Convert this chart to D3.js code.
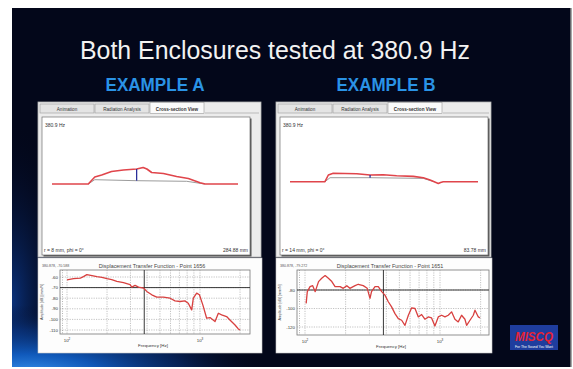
<!DOCTYPE html>
<html><head><meta charset="utf-8">
<script src="https://cdn.jsdelivr.net/npm/d3@7"></script>
<style>body{margin:0;background:#fff}svg{display:block}</style>
</head><body>
<script>
// ---------- data ----------
const titleText = "Both Enclosures tested at 380.9 Hz";
const exampleLabels = ["EXAMPLE A", "EXAMPLE B"];
const tabLabels = ["Animation", "Radiation Analysis", "Cross-section View"];
const testFreq = 380.9;
const freqLabel = "380.9 Hz";
const radiusLabels = ["r = 8 mm, phi = 0°", "r = 14 mm, phi = 0°"];
const scaleLabels = ["284.88 mm", "83.78 mm"];
const plotTitles = ["Displacement Transfer Function - Point 1656", "Displacement Transfer Function - Point 1651"];
const cursorLabels = ["380.878, -70.588", "380.878, -79.272"];

// cross-section profiles: position (% of span) and displacement (units)
const secPosA  = [0, 19.5, 21, 23, 26.7, 32, 38.4, 45.5, 49, 51, 53.6, 59.9, 67, 73.3, 79.6, 82.3, 100];
const secDispA = [0, 0, 3, 7, 9, 12.5, 14, 15, 16.5, 15, 11.5, 10.5, 7.5, 5.5, 1.3, 0, 0];
const restPosA  = [19.5, 23, 45.5, 72.4, 79.6, 82];
const restDispA = [0, 4.3, 3.3, 2.7, 0.7, 0];
const probeA = {pos: 45.5, from: 3.3, to: 15};

const secPosB  = [0, 18.6, 20.4, 23, 35.5, 42.6, 49.6, 56.7, 65.6, 70.9, 74.5, 78.9, 80.1, 81.5, 100];
const secDispB = [0, 0, 6.7, 8.4, 8, 6.7, 7, 6, 5.3, 4, 1.7, -1.7, -0.7, 0, 0];
const restPosB  = [18.6, 21.3, 42.6, 70.9, 75.4, 77];
const restDispB = [0, 4, 4, 3.3, 0.7, 0];
const probeB = {pos: 42.6, from: 4, to: 6.7};

// transfer functions: frequency (Hz) and amplitude (dB)
const freqA = [100, 112, 126, 133, 141, 154, 168, 183, 200, 217, 237, 266, 298, 307, 325, 345, 376, 398, 434, 473, 531, 596, 649, 708, 770, 816, 866, 891, 944, 990, 1050, 1122, 1189, 1297, 1374, 1455, 1585, 1679, 1834, 1941, 2000];
const dbA   = [-62.8, -61.6, -61, -59.7, -57.8, -58.7, -59.7, -60.3, -61.6, -62.5, -64.1, -65.4, -67.3, -69.5, -67.9, -69.5, -70.4, -73.6, -76.8, -79, -79, -80, -82.5, -83.1, -82.5, -84.7, -91, -80, -75.2, -76.8, -86.3, -98.9, -98.3, -102, -94.2, -95.7, -97.3, -100.5, -105.3, -109, -110];
const freqB = [102, 104, 109, 114, 119, 126, 133, 141, 149, 158, 167, 182, 192, 204, 215, 235, 248, 270, 289, 303, 311, 330, 349, 370, 391, 414, 438, 464, 491, 520, 550, 583, 617, 653, 691, 731, 773, 819, 866, 917, 971, 1028, 1088, 1151, 1218, 1290, 1365, 1445, 1530, 1575, 1667, 1765, 1816, 1923, 1980];
const dbB   = [-94.5, -81.8, -76.4, -75.3, -81.8, -70.9, -67.3, -64.4, -67.3, -70.9, -76.4, -76.4, -78.2, -75.3, -78.2, -75.3, -73.8, -75.3, -78.2, -89.1, -81.8, -76.4, -76.4, -81.8, -85.5, -92.7, -98.2, -105.5, -110.9, -112.7, -118.2, -107.3, -99.3, -100, -109.1, -106.5, -111.6, -109.1, -110.2, -118.9, -109.1, -107.3, -109.1, -107.3, -103.6, -111.6, -114.5, -107.3, -111.6, -118.2, -112.7, -107.3, -101.8, -109.1, -110.2];
const yTicksA = [-60, -70, -80, -90, -100, -110];
const yTicksB = [-80, -100, -120];
const refLevels = [-70, -80];
const xTickVals = [100, 1000];
const gridFreqs = [200, 300, 400, 500, 600, 700, 800, 900, 2000];

// ---------- drawing ----------
const W = 573, H = 369;
const svg = d3.select("body").append("svg").attr("width", W).attr("height", H)
  .style("font-family", "'Liberation Sans', Arial, sans-serif");
const defs = svg.append("defs");
const rg = defs.append("radialGradient").attr("id", "glow").attr("cx", 0.5).attr("cy", 0.5).attr("r", 0.5);
rg.append("stop").attr("offset", "0").attr("stop-color", "#3a95f0").attr("stop-opacity", 1);
rg.append("stop").attr("offset", "0.3").attr("stop-color", "#1160c8").attr("stop-opacity", 0.9);
rg.append("stop").attr("offset", "0.65").attr("stop-color", "#0a3a8c").attr("stop-opacity", 0.5);
rg.append("stop").attr("offset", "1").attr("stop-color", "#03071a").attr("stop-opacity", 0);
const rg2 = defs.append("radialGradient").attr("id", "glow2").attr("cx", 0.5).attr("cy", 0.5).attr("r", 0.5);
rg2.append("stop").attr("offset", "0").attr("stop-color", "#0d3f99").attr("stop-opacity", 0.75);
rg2.append("stop").attr("offset", "1").attr("stop-color", "#03071a").attr("stop-opacity", 0);
defs.append("clipPath").attr("id", "slideClip").append("rect")
  .attr("x", 12).attr("y", 8).attr("width", 559).attr("height", 359);

// slide
svg.append("rect").attr("x", 12).attr("y", 8).attr("width", 559).attr("height", 359).attr("fill", "#03071a");
const glowG = svg.append("g").attr("clip-path", "url(#slideClip)");
glowG.append("ellipse").attr("cx", 12).attr("cy", 300).attr("rx", 60).attr("ry", 180).attr("fill", "url(#glow2)");
glowG.append("ellipse").attr("cx", 30).attr("cy", 375).attr("rx", 240).attr("ry", 70).attr("fill", "url(#glow)");
svg.append("line").attr("x1", 571).attr("x2", 571).attr("y1", 8).attr("y2", 367).attr("stroke", "#8a8a8a").attr("stroke-width", 1.5);

svg.append("text").attr("x", 275).attr("y", 59).attr("text-anchor", "middle")
  .attr("fill", "#f2f2f2").attr("font-size", 25).attr("textLength", 390).attr("lengthAdjust", "spacingAndGlyphs")
  .text(titleText);

const exX = [155, 386];
exampleLabels.forEach((t, i) => {
  svg.append("text").attr("x", exX[i]).attr("y", 91).attr("text-anchor", "middle")
    .attr("fill", "#2a93e6").attr("font-size", 19).attr("font-weight", "bold")
    .attr("textLength", 99).attr("lengthAdjust", "spacingAndGlyphs").text(t);
});

const panels = [
  {x0: 38, x1: 261, box: [42, 250], sec: [52, 238], base: 184,
   secPos: secPosA, secDisp: secDispA, restPos: restPosA, restDisp: restDispA, probe: probeA,
   plot: [60, 250, 270, 334], fx: [67, 200], yDom: [-60, -110], yRng: [277, 330],
   freq: freqA, db: dbA, yTicks: yTicksA, ref: refLevels[0]},
  {x0: 276, x1: 491, box: [280, 488], sec: [290, 478], base: 181.7,
   secPos: secPosB, secDisp: secDispB, restPos: restPosB, restDisp: restDispB, probe: probeB,
   plot: [297, 489, 270, 335], fx: [305, 440], yDom: [-80, -120], yRng: [290, 327],
   freq: freqB, db: dbB, yTicks: yTicksB, ref: refLevels[1]}
];

panels.forEach((p, i) => {
  const g = svg.append("g");
  // outer window
  g.append("rect").attr("x", p.x0).attr("y", 102).attr("width", p.x1 - p.x0).attr("height", 155)
    .attr("fill", "#ececec").attr("stroke", "#b5b5b5").attr("stroke-width", 0.8);
  // tabs
  const tabW = 54;
  tabLabels.forEach((t, k) => {
    const tx = p.x0 + 2 + k * (tabW + 1);
    const active = k === 2;
    g.append("rect").attr("x", tx).attr("y", active ? 102.5 : 104).attr("width", tabW).attr("height", active ? 11 : 9)
      .attr("fill", active ? "#fafafa" : "#e4e4e4").attr("stroke", "#9a9a9a").attr("stroke-width", 0.6);
    g.append("text").attr("x", tx + tabW / 2).attr("y", 110.5).attr("text-anchor", "middle")
      .attr("font-size", 4.6).attr("fill", "#333").attr("font-weight", active ? "bold" : "normal").text(t);
  });
  g.append("line").attr("x1", p.x0 + 2 + 3 * (tabW + 1)).attr("x2", p.x1 - 2).attr("y1", 113).attr("y2", 113)
    .attr("stroke", "#9a9a9a").attr("stroke-width", 0.6);
  // inner cross-section box
  g.append("rect").attr("x", p.box[0] + 1.5).attr("y", 118.5).attr("width", p.box[1] - p.box[0]).attr("height", 138)
    .attr("fill", "#555");
  g.append("rect").attr("x", p.box[0]).attr("y", 117).attr("width", p.box[1] - p.box[0]).attr("height", 138)
    .attr("fill", "#fff").attr("stroke", "#707070").attr("stroke-width", 0.7);
  g.append("text").attr("x", p.box[0] + 3).attr("y", 127).attr("font-size", 5).attr("fill", "#333").text(freqLabel);
  g.append("text").attr("x", p.box[0] + 2).attr("y", 252).attr("font-size", 5).attr("fill", "#333").text(radiusLabels[i]);
  g.append("text").attr("x", p.box[1] - 2).attr("y", 252).attr("text-anchor", "end").attr("font-size", 5).attr("fill", "#333").text(scaleLabels[i]);

  const sx = d3.scaleLinear().domain([0, 100]).range(p.sec);
  const sy = d3.scaleLinear().domain([0, 10]).range([p.base, p.base - 10]);
  const line = d3.line().x(d => sx(d[0])).y(d => sy(d[1]));
  g.append("path").attr("d", line(d3.zip(p.restPos, p.restDisp))).attr("fill", "none")
    .attr("stroke", "#9c9c9c").attr("stroke-width", 1);
  g.append("path").attr("d", line(d3.zip(p.secPos, p.secDisp))).attr("fill", "none")
    .attr("stroke", "#e0454b").attr("stroke-width", 1.6).attr("stroke-linejoin", "round");
  g.append("line").attr("x1", sx(p.probe.pos)).attr("x2", sx(p.probe.pos))
    .attr("y1", sy(p.probe.from)).attr("y2", sy(p.probe.to)).attr("stroke", "#2b2f9a").attr("stroke-width", 1.3);

  // lower white section
  g.append("rect").attr("x", p.x0).attr("y", 258).attr("width", p.x1 - p.x0 + 1).attr("height", 95)
    .attr("fill", "#fdfdfd").attr("stroke", "#c8c8c8").attr("stroke-width", 0.6);
  const [px0, px1, py0, py1] = p.plot;
  g.append("text").attr("x", (px0 + px1) / 2 - 3).attr("y", 268).attr("text-anchor", "middle")
    .attr("font-size", 5.4).attr("fill", "#444").text(plotTitles[i]);
  g.append("text").attr("x", p.x0 + 4).attr("y", 267).attr("font-size", 3.6).attr("fill", "#555").text(cursorLabels[i]);

  const fx = d3.scaleLog().domain([100, 1000]).range(p.fx);
  const fy = d3.scaleLinear().domain(p.yDom).range(p.yRng);
  const pg = g.append("g");
  pg.append("rect").attr("x", px0).attr("y", py0).attr("width", px1 - px0).attr("height", py1 - py0)
    .attr("fill", "#fff").attr("stroke", "#777").attr("stroke-width", 0.8);
  // grid
  gridFreqs.concat(xTickVals).forEach(f => {
    const x = fx(f);
    if (x > px0 && x < px1)
      pg.append("line").attr("x1", x).attr("x2", x).attr("y1", py0).attr("y2", py1)
        .attr("stroke", "#9a9a9a").attr("stroke-width", 0.6).attr("stroke-dasharray", "1.2,1.2");
  });
  p.yTicks.forEach(v => {
    const y = fy(v);
    pg.append("line").attr("x1", px0).attr("x2", px1).attr("y1", y).attr("y2", y)
      .attr("stroke", "#9a9a9a").attr("stroke-width", 0.6).attr("stroke-dasharray", "1.2,1.2");
    pg.append("text").attr("x", px0 - 2).attr("y", y + 1.5).attr("text-anchor", "end")
      .attr("font-size", 4.4).attr("fill", "#333").text(v);
  });
  // left axis tick marks
  pg.append("line").attr("x1", px0 + 2.5).attr("x2", px0 + 2.5).attr("y1", py0).attr("y2", py1)
    .attr("stroke", "#666").attr("stroke-width", 0.6).attr("stroke-dasharray", "0.8,1.6");
  // reference lines
  pg.append("line").attr("x1", px0).attr("x2", px1).attr("y1", fy(p.ref)).attr("y2", fy(p.ref))
    .attr("stroke", "#222").attr("stroke-width", 0.9);
  pg.append("line").attr("x1", fx(testFreq)).attr("x2", fx(testFreq)).attr("y1", py0).attr("y2", py1)
    .attr("stroke", "#222").attr("stroke-width", 0.9);
  // curve
  pg.append("path").attr("d", d3.line().x(d => fx(d[0])).y(d => fy(d[1]))(d3.zip(p.freq, p.db)))
    .attr("fill", "none").attr("stroke", "#d8403f").attr("stroke-width", 1.3).attr("stroke-linejoin", "round");
  // x tick labels
  xTickVals.forEach(f => {
    const t = pg.append("text").attr("x", fx(f)).attr("y", py1 + 7.5).attr("text-anchor", "middle")
      .attr("font-size", 4.4).attr("fill", "#333");
    t.append("tspan").text("10");
    t.append("tspan").attr("dy", -1.8).attr("font-size", 3).text(Math.round(Math.log10(f)));
  });
  pg.append("text").attr("x", (px0 + px1) / 2 - 2).attr("y", py1 + 13).attr("text-anchor", "middle")
    .attr("font-size", 4.4).attr("fill", "#333").text("Frequency [Hz]");
  pg.append("text").attr("transform", `translate(${p.x0 + 5},${(py0 + py1) / 2}) rotate(-90)`)
    .attr("text-anchor", "middle").attr("font-size", 3.6).attr("fill", "#444").text("Amplitude [dB]    [mm/N]");
});

// logo
const logo = svg.append("g");
logo.append("rect").attr("x", 510).attr("y", 325).attr("width", 48).attr("height", 25).attr("fill", "#1f3d9e");
logo.append("text").attr("x", 534).attr("y", 341).attr("text-anchor", "middle").attr("font-size", 12.5)
  .attr("font-weight", "bold").attr("font-style", "italic").attr("fill", "#e52335")
  .attr("textLength", 38).attr("lengthAdjust", "spacingAndGlyphs").text("MISCQ");
logo.append("text").attr("x", 534).attr("y", 347.5).attr("text-anchor", "middle").attr("font-size", 3.4)
  .attr("fill", "#fff").text("For The Sound You Want");
</script>
</body></html>
